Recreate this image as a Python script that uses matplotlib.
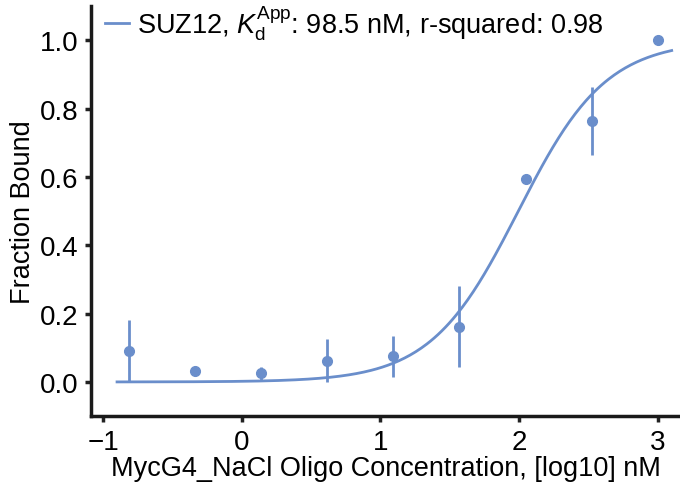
import numpy as np
import matplotlib.pyplot as plt

# Binding data (log10 nM)
log_conc = [-0.817, -0.340, 0.137, 0.614, 1.092, 1.569, 2.046, 2.523, 3.0]
frac_bound = [0.09, 0.032, 0.025, 0.062, 0.075, 0.162, 0.595, 0.765, 1.0]
frac_err = [0.09, 0.0, 0.02, 0.063, 0.06, 0.118, 0.01, 0.10, 0.0]

# Fit parameters (Hill model)
kd_app = 98.5
hill_n = 1.37
fit_range = (-0.9, 3.1)

color = '#6a8ecb'

plt.rcParams['font.family'] = ['Liberation Sans', 'DejaVu Sans']
plt.rcParams['mathtext.fontset'] = 'custom'
plt.rcParams['mathtext.rm'] = 'Liberation Sans'
plt.rcParams['mathtext.it'] = 'Liberation Sans:italic'

fig, ax = plt.subplots(figsize=(6.8, 4.85), dpi=100)

xfit = np.linspace(fit_range[0], fit_range[1], 300)
yfit = 1.0 / (1.0 + (kd_app / 10 ** xfit) ** hill_n)
ax.plot(xfit, yfit, color=color, linewidth=2,
        label=r'SUZ12, $K_\mathrm{d}^\mathrm{App}$: 98.5 nM, r-squared: 0.98')
ax.errorbar(log_conc, frac_bound, yerr=frac_err, fmt='o', color=color,
            markersize=7, elinewidth=2, capsize=0)

ax.set_xlim(-1.087, 3.16)
ax.set_ylim(-0.1, 1.1)
ax.set_xticks([-1, 0, 1, 2, 3])
ax.set_yticks([0.0, 0.2, 0.4, 0.6, 0.8, 1.0])
ax.set_xticklabels(['\u22121', '0', '1', '2', '3'])
ax.set_yticklabels(['0.0', '0.2', '0.4', '0.6', '0.8', '1.0'])
ax.tick_params(labelsize=20, length=4, width=2.5, color='#222222', pad=5)

for s in ['top', 'right']:
    ax.spines[s].set_visible(False)
for s in ['left', 'bottom']:
    ax.spines[s].set_linewidth(2.5)
    ax.spines[s].set_color('#1a1a1a')

ax.set_xlabel('MycG4_NaCl Oligo Concentration, [log10] nM', fontsize=19.5, labelpad=0)
ax.set_ylabel('Fraction Bound', fontsize=19.5, labelpad=3)

ax.legend(loc='upper left', frameon=False, fontsize=19.5, handlelength=0.9,
          handletextpad=0.3, borderaxespad=0.1, bbox_to_anchor=(0.0, 1.04))

fig.subplots_adjust(left=0.134, right=1.0, bottom=0.14, top=0.985)
fig.savefig('out.png', dpi=100, facecolor='white')
